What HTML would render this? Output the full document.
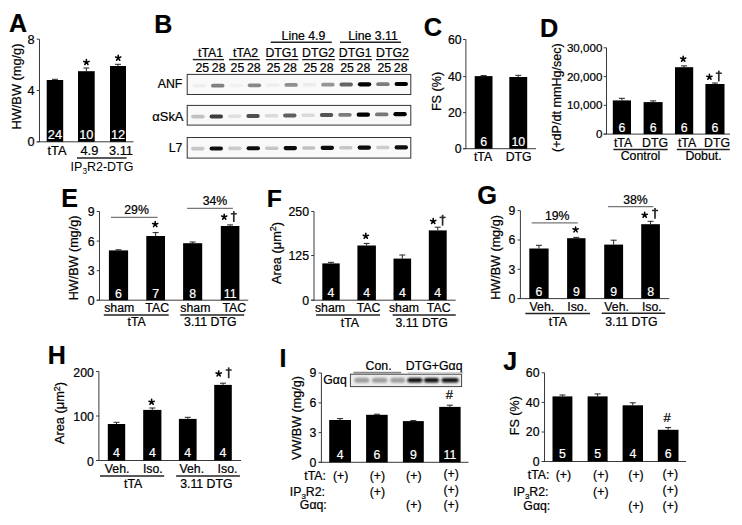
<!DOCTYPE html>
<html><head><meta charset="utf-8"><style>
html,body{margin:0;padding:0;background:#fff;}
svg{display:block;font-family:"Liberation Sans", sans-serif;}
text{stroke-width:0.22px;}
</style></head><body>
<svg width="742" height="525" viewBox="0 0 742 525">
<defs><filter id="bl" x="-30%" y="-100%" width="160%" height="300%"><feGaussianBlur stdDeviation="0.6"/></filter><filter id="bl2" x="-30%" y="-100%" width="160%" height="300%"><feGaussianBlur stdDeviation="0.8"/></filter></defs>
<rect width="742" height="525" fill="#fff"/>
<text x="8.9" y="31.8" font-size="25.0" text-anchor="start" fill="#000" stroke="#000" font-weight="bold">A</text>
<line x1="39.5" y1="39.2" x2="39.5" y2="141.8" stroke="#3a3a3a" stroke-width="1"/>
<line x1="36.7" y1="141.8" x2="133.5" y2="141.8" stroke="#3a3a3a" stroke-width="1"/>
<line x1="36.7" y1="39.2" x2="39.5" y2="39.2" stroke="#3a3a3a" stroke-width="1"/>
<text x="34.7" y="43.7824" font-size="12.8" text-anchor="end" fill="#000" stroke="#000">8</text>
<line x1="36.7" y1="90.5" x2="39.5" y2="90.5" stroke="#3a3a3a" stroke-width="1"/>
<text x="34.7" y="95.0824" font-size="12.8" text-anchor="end" fill="#000" stroke="#000">4</text>
<line x1="36.7" y1="141.8" x2="39.5" y2="141.8" stroke="#3a3a3a" stroke-width="1"/>
<text x="34.7" y="146.38240000000002" font-size="12.8" text-anchor="end" fill="#000" stroke="#000">0</text>
<text transform="translate(20.6,86.5) rotate(-90)" font-size="12.8" text-anchor="middle" fill="#000" stroke="#000">HW/BW (mg/g)</text>
<line x1="54.95" y1="79.3" x2="54.95" y2="80" stroke="#222" stroke-width="1"/>
<line x1="51.95" y1="79.3" x2="57.95" y2="79.3" stroke="#222" stroke-width="1"/>
<rect x="46.7" y="80" width="16.5" height="61.80000000000001" fill="#000" />
<text x="54.95" y="139" font-size="12.8" text-anchor="middle" fill="#fff" stroke="#fff">24</text>
<line x1="86.35" y1="68" x2="86.35" y2="71.2" stroke="#222" stroke-width="1"/>
<line x1="83.35" y1="68" x2="89.35" y2="68" stroke="#222" stroke-width="1"/>
<rect x="78" y="71.2" width="16.700000000000003" height="70.60000000000001" fill="#000" />
<text x="86.35" y="139" font-size="12.8" text-anchor="middle" fill="#fff" stroke="#fff">10</text>
<line x1="118.0" y1="64.3" x2="118.0" y2="66" stroke="#222" stroke-width="1"/>
<line x1="115.0" y1="64.3" x2="121.0" y2="64.3" stroke="#222" stroke-width="1"/>
<rect x="110" y="66" width="16" height="75.80000000000001" fill="#000" />
<text x="118.0" y="139" font-size="12.8" text-anchor="middle" fill="#fff" stroke="#fff">12</text>
<path d="M86.40,62.25L86.40,59.50M86.40,62.25L89.02,61.40M86.40,62.25L88.02,64.47M86.40,62.25L84.78,64.47M86.40,62.25L83.78,61.40" stroke="#000" stroke-width="1.55" stroke-linecap="round" fill="none"/>
<path d="M118.20,57.95L118.20,55.20M118.20,57.95L120.82,57.10M118.20,57.95L119.82,60.17M118.20,57.95L116.58,60.17M118.20,57.95L115.58,57.10" stroke="#000" stroke-width="1.55" stroke-linecap="round" fill="none"/>
<text x="57" y="155.3" font-size="12.8" text-anchor="middle" fill="#000" stroke="#000">tTA</text>
<text x="89.4" y="155.3" font-size="12.8" text-anchor="middle" fill="#000" stroke="#000">4.9</text>
<text x="121" y="155.3" font-size="12.8" text-anchor="middle" fill="#000" stroke="#000">3.11</text>
<line x1="77" y1="158.1" x2="126.6" y2="158.1" stroke="#222" stroke-width="1.5"/>
<text x="70.6" y="170.6" font-size="12.8" text-anchor="start" textLength="62.8" lengthAdjust="spacingAndGlyphs">IP<tspan font-size="8.5" dy="3">3</tspan><tspan dy="-3">R2-DTG</tspan></text>
<text x="154.25" y="32.6" font-size="25.0" text-anchor="start" fill="#000" stroke="#000" font-weight="bold">B</text>
<text x="303.5" y="39.8" font-size="12.3" text-anchor="middle" fill="#000" stroke="#000">Line 4.9</text>
<line x1="270.8" y1="42.2" x2="331.8" y2="42.2" stroke="#222" stroke-width="1.4"/>
<text x="373" y="39.8" font-size="12.3" text-anchor="middle" fill="#000" stroke="#000">Line 3.11</text>
<line x1="340" y1="42.2" x2="401" y2="42.2" stroke="#222" stroke-width="1.4"/>
<text x="210.5" y="56.6" font-size="12.3" text-anchor="middle" fill="#000" stroke="#000">tTA1</text>
<line x1="192.8" y1="59.6" x2="224" y2="59.6" stroke="#222" stroke-width="1.4"/>
<text x="202.3" y="71.5" font-size="12.3" text-anchor="middle" fill="#000" stroke="#000">25</text>
<text x="218.7" y="71.5" font-size="12.3" text-anchor="middle" fill="#000" stroke="#000">28</text>
<text x="245.6" y="56.6" font-size="12.3" text-anchor="middle" fill="#000" stroke="#000">tTA2</text>
<line x1="229" y1="59.6" x2="259.8" y2="59.6" stroke="#222" stroke-width="1.4"/>
<text x="237.4" y="71.5" font-size="12.3" text-anchor="middle" fill="#000" stroke="#000">25</text>
<text x="253.79999999999998" y="71.5" font-size="12.3" text-anchor="middle" fill="#000" stroke="#000">28</text>
<text x="281.8" y="56.6" font-size="12.3" text-anchor="middle" fill="#000" stroke="#000">DTG1</text>
<line x1="265.8" y1="59.6" x2="298.4" y2="59.6" stroke="#222" stroke-width="1.4"/>
<text x="273.6" y="71.5" font-size="12.3" text-anchor="middle" fill="#000" stroke="#000">25</text>
<text x="290.0" y="71.5" font-size="12.3" text-anchor="middle" fill="#000" stroke="#000">28</text>
<text x="318.5" y="56.6" font-size="12.3" text-anchor="middle" fill="#000" stroke="#000">DTG2</text>
<line x1="302.2" y1="59.6" x2="335" y2="59.6" stroke="#222" stroke-width="1.4"/>
<text x="310.3" y="71.5" font-size="12.3" text-anchor="middle" fill="#000" stroke="#000">25</text>
<text x="326.7" y="71.5" font-size="12.3" text-anchor="middle" fill="#000" stroke="#000">28</text>
<text x="355.2" y="56.6" font-size="12.3" text-anchor="middle" fill="#000" stroke="#000">DTG1</text>
<line x1="339" y1="59.6" x2="372" y2="59.6" stroke="#222" stroke-width="1.4"/>
<text x="347.0" y="71.5" font-size="12.3" text-anchor="middle" fill="#000" stroke="#000">25</text>
<text x="363.4" y="71.5" font-size="12.3" text-anchor="middle" fill="#000" stroke="#000">28</text>
<text x="392.5" y="56.6" font-size="12.3" text-anchor="middle" fill="#000" stroke="#000">DTG2</text>
<line x1="376" y1="59.6" x2="409" y2="59.6" stroke="#222" stroke-width="1.4"/>
<text x="384.3" y="71.5" font-size="12.3" text-anchor="middle" fill="#000" stroke="#000">25</text>
<text x="400.7" y="71.5" font-size="12.3" text-anchor="middle" fill="#000" stroke="#000">28</text>
<rect x="187.2" y="74.4" width="223.60000000000002" height="20.099999999999994" fill="#f9f9f9" stroke="#333" stroke-width="1"/>
<rect x="192.70" y="84.08" width="13.4" height="3.43" rx="1.72" fill="rgb(238,238,238)" filter="url(#bl)"/>
<rect x="211.05" y="83.74" width="13.4" height="3.78" rx="1.89" fill="rgb(129,129,129)" filter="url(#bl)"/>
<rect x="229.40" y="83.76" width="13.4" height="3.42" rx="1.71" fill="rgb(241,241,241)" filter="url(#bl)"/>
<rect x="247.75" y="83.43" width="13.4" height="3.76" rx="1.88" fill="rgb(136,136,136)" filter="url(#bl)"/>
<rect x="266.10" y="83.43" width="13.4" height="3.43" rx="1.72" fill="rgb(238,238,238)" filter="url(#bl)"/>
<rect x="284.45" y="83.11" width="13.4" height="3.74" rx="1.87" fill="rgb(144,144,144)" filter="url(#bl)"/>
<rect x="302.80" y="83.10" width="13.4" height="3.44" rx="1.72" fill="rgb(236,236,236)" filter="url(#bl)"/>
<rect x="321.15" y="82.79" width="13.4" height="3.72" rx="1.86" fill="rgb(149,149,149)" filter="url(#bl)"/>
<rect x="339.50" y="82.55" width="13.4" height="3.88" rx="1.94" fill="rgb(99,99,99)" filter="url(#bl)"/>
<rect x="357.85" y="82.24" width="13.4" height="4.18" rx="2.09" fill="rgb(5,5,5)" filter="url(#bl)"/>
<rect x="376.20" y="82.26" width="13.4" height="3.80" rx="1.90" fill="rgb(124,124,124)" filter="url(#bl)"/>
<rect x="394.55" y="81.91" width="13.4" height="4.18" rx="2.09" fill="rgb(5,5,5)" filter="url(#bl)"/>
<rect x="187.2" y="105.4" width="223.60000000000002" height="19.69999999999999" fill="#f9f9f9" stroke="#333" stroke-width="1"/>
<rect x="191.20" y="114.81" width="13.4" height="3.58" rx="1.79" fill="rgb(193,193,193)" filter="url(#bl)"/>
<rect x="209.58" y="114.38" width="13.4" height="4.00" rx="2.00" fill="rgb(62,62,62)" filter="url(#bl)"/>
<rect x="227.96" y="114.42" width="13.4" height="3.48" rx="1.74" fill="rgb(223,223,223)" filter="url(#bl)"/>
<rect x="246.34" y="113.97" width="13.4" height="3.94" rx="1.97" fill="rgb(79,79,79)" filter="url(#bl)"/>
<rect x="264.72" y="113.98" width="13.4" height="3.50" rx="1.75" fill="rgb(218,218,218)" filter="url(#bl)"/>
<rect x="283.10" y="113.56" width="13.4" height="3.90" rx="1.95" fill="rgb(94,94,94)" filter="url(#bl)"/>
<rect x="301.48" y="113.54" width="13.4" height="3.50" rx="1.75" fill="rgb(218,218,218)" filter="url(#bl)"/>
<rect x="319.86" y="113.11" width="13.4" height="3.93" rx="1.96" fill="rgb(84,84,84)" filter="url(#bl)"/>
<rect x="338.24" y="112.95" width="13.4" height="3.80" rx="1.90" fill="rgb(124,124,124)" filter="url(#bl)"/>
<rect x="356.62" y="112.54" width="13.4" height="4.18" rx="2.09" fill="rgb(5,5,5)" filter="url(#bl)"/>
<rect x="375.00" y="112.51" width="13.4" height="3.82" rx="1.91" fill="rgb(119,119,119)" filter="url(#bl)"/>
<rect x="393.38" y="112.11" width="13.4" height="4.18" rx="2.09" fill="rgb(5,5,5)" filter="url(#bl)"/>
<rect x="187.2" y="137.5" width="223.60000000000002" height="20.599999999999994" fill="#f9f9f9" stroke="#333" stroke-width="1"/>
<rect x="191.10" y="146.82" width="13.4" height="3.56" rx="1.78" fill="rgb(198,198,198)" filter="url(#bl)"/>
<rect x="209.60" y="146.42" width="13.4" height="4.14" rx="2.07" fill="rgb(17,17,17)" filter="url(#bl)"/>
<rect x="228.10" y="146.61" width="13.4" height="3.54" rx="1.77" fill="rgb(203,203,203)" filter="url(#bl)"/>
<rect x="246.60" y="146.19" width="13.4" height="4.17" rx="2.08" fill="rgb(10,10,10)" filter="url(#bl)"/>
<rect x="265.10" y="146.38" width="13.4" height="3.56" rx="1.78" fill="rgb(198,198,198)" filter="url(#bl)"/>
<rect x="283.60" y="145.97" width="13.4" height="4.18" rx="2.09" fill="rgb(7,7,7)" filter="url(#bl)"/>
<rect x="302.10" y="146.16" width="13.4" height="3.58" rx="1.79" fill="rgb(193,193,193)" filter="url(#bl)"/>
<rect x="320.60" y="145.75" width="13.4" height="4.18" rx="2.09" fill="rgb(7,7,7)" filter="url(#bl)"/>
<rect x="339.10" y="145.95" width="13.4" height="3.56" rx="1.78" fill="rgb(198,198,198)" filter="url(#bl)"/>
<rect x="357.60" y="145.53" width="13.4" height="4.18" rx="2.09" fill="rgb(7,7,7)" filter="url(#bl)"/>
<rect x="376.10" y="145.74" width="13.4" height="3.54" rx="1.77" fill="rgb(203,203,203)" filter="url(#bl)"/>
<rect x="394.60" y="145.33" width="13.4" height="4.14" rx="2.07" fill="rgb(17,17,17)" filter="url(#bl)"/>
<text x="182.4" y="88.3" font-size="12.3" text-anchor="end" fill="#000" stroke="#000">ANF</text>
<text x="152.3" y="121" font-size="12.3" stroke="#000" textLength="31.2" lengthAdjust="spacingAndGlyphs">αSkA</text>
<text x="182.4" y="152" font-size="12.3" text-anchor="end" fill="#000" stroke="#000">L7</text>
<text x="423.7" y="36.0" font-size="25.41" text-anchor="start" fill="#000" stroke="#000" font-weight="bold">C</text>
<line x1="465.9" y1="39.5" x2="465.9" y2="148.7" stroke="#3a3a3a" stroke-width="1"/>
<line x1="463.09999999999997" y1="148.7" x2="536" y2="148.7" stroke="#3a3a3a" stroke-width="1"/>
<line x1="463.09999999999997" y1="39.5" x2="465.9" y2="39.5" stroke="#3a3a3a" stroke-width="1"/>
<text x="461.59999999999997" y="43.9034" font-size="12.3" text-anchor="end" fill="#000" stroke="#000">60</text>
<line x1="463.09999999999997" y1="76.6" x2="465.9" y2="76.6" stroke="#3a3a3a" stroke-width="1"/>
<text x="461.59999999999997" y="81.0034" font-size="12.3" text-anchor="end" fill="#000" stroke="#000">40</text>
<line x1="463.09999999999997" y1="112.6" x2="465.9" y2="112.6" stroke="#3a3a3a" stroke-width="1"/>
<text x="461.59999999999997" y="117.0034" font-size="12.3" text-anchor="end" fill="#000" stroke="#000">20</text>
<line x1="463.09999999999997" y1="148.7" x2="465.9" y2="148.7" stroke="#3a3a3a" stroke-width="1"/>
<text x="461.59999999999997" y="153.1034" font-size="12.3" text-anchor="end" fill="#000" stroke="#000">0</text>
<text transform="translate(441.0,91.5) rotate(-90)" font-size="12.6" text-anchor="middle" fill="#000" stroke="#000">FS (%)</text>
<line x1="483.6" y1="75.6" x2="483.6" y2="76.1" stroke="#222" stroke-width="1"/>
<line x1="480.6" y1="75.6" x2="486.6" y2="75.6" stroke="#222" stroke-width="1"/>
<rect x="474.7" y="76.1" width="17.80000000000001" height="72.6" fill="#000" />
<text x="483.6" y="146.2" font-size="12.3" text-anchor="middle" fill="#fff" stroke="#fff">6</text>
<line x1="518.25" y1="75.3" x2="518.25" y2="77" stroke="#222" stroke-width="1"/>
<line x1="515.25" y1="75.3" x2="521.25" y2="75.3" stroke="#222" stroke-width="1"/>
<rect x="509.3" y="77" width="17.900000000000034" height="71.69999999999999" fill="#000" />
<text x="518.25" y="146.2" font-size="12.3" text-anchor="middle" fill="#fff" stroke="#fff">10</text>
<text x="483" y="160.7" font-size="12.3" text-anchor="middle" fill="#000" stroke="#000">tTA</text>
<text x="518.7" y="160.7" font-size="12.3" text-anchor="middle" fill="#000" stroke="#000">DTG</text>
<text x="540.1" y="36.8" font-size="25.28" text-anchor="start" fill="#000" stroke="#000" font-weight="bold">D</text>
<line x1="606.5" y1="47.8" x2="606.5" y2="134.1" stroke="#3a3a3a" stroke-width="1"/>
<line x1="603.7" y1="134.1" x2="730" y2="134.1" stroke="#3a3a3a" stroke-width="1"/>
<line x1="603.7" y1="47.8" x2="606.5" y2="47.8" stroke="#3a3a3a" stroke-width="1"/>
<text x="602.4" y="51.952799999999996" font-size="11.6" text-anchor="end" fill="#000" stroke="#000">30,000</text>
<line x1="603.7" y1="76.6" x2="606.5" y2="76.6" stroke="#3a3a3a" stroke-width="1"/>
<text x="602.4" y="80.7528" font-size="11.6" text-anchor="end" fill="#000" stroke="#000">20,000</text>
<line x1="603.7" y1="105.3" x2="606.5" y2="105.3" stroke="#3a3a3a" stroke-width="1"/>
<text x="602.4" y="109.4528" font-size="11.6" text-anchor="end" fill="#000" stroke="#000">10,000</text>
<line x1="603.7" y1="134.1" x2="606.5" y2="134.1" stroke="#3a3a3a" stroke-width="1"/>
<text x="602.4" y="138.2528" font-size="11.6" text-anchor="end" fill="#000" stroke="#000">0</text>
<text transform="translate(560.6,97.6) rotate(-90)" font-size="12.6" text-anchor="middle" fill="#000" stroke="#000">(+dP/dt mmHg/sec)</text>
<line x1="621.9" y1="98.3" x2="621.9" y2="100.4" stroke="#222" stroke-width="1"/>
<line x1="618.9" y1="98.3" x2="624.9" y2="98.3" stroke="#222" stroke-width="1"/>
<rect x="612.8" y="100.4" width="18.200000000000045" height="33.69999999999999" fill="#000" />
<text x="621.9" y="131.5" font-size="12.3" text-anchor="middle" fill="#fff" stroke="#fff">6</text>
<line x1="653.1" y1="100.9" x2="653.1" y2="102.1" stroke="#222" stroke-width="1"/>
<line x1="650.1" y1="100.9" x2="656.1" y2="100.9" stroke="#222" stroke-width="1"/>
<rect x="643.6" y="102.1" width="19.0" height="32.0" fill="#000" />
<text x="653.1" y="131.5" font-size="12.3" text-anchor="middle" fill="#fff" stroke="#fff">6</text>
<line x1="684.1" y1="65.9" x2="684.1" y2="67.2" stroke="#222" stroke-width="1"/>
<line x1="681.1" y1="65.9" x2="687.1" y2="65.9" stroke="#222" stroke-width="1"/>
<rect x="675" y="67.2" width="18.200000000000045" height="66.89999999999999" fill="#000" />
<text x="684.1" y="131.5" font-size="12.3" text-anchor="middle" fill="#fff" stroke="#fff">6</text>
<line x1="714.95" y1="83" x2="714.95" y2="84" stroke="#222" stroke-width="1"/>
<line x1="711.95" y1="83" x2="717.95" y2="83" stroke="#222" stroke-width="1"/>
<rect x="705.4" y="84" width="19.100000000000023" height="50.099999999999994" fill="#000" />
<text x="714.95" y="131.5" font-size="12.3" text-anchor="middle" fill="#fff" stroke="#fff">6</text>
<path d="M683.20,58.95L683.20,56.20M683.20,58.95L685.82,58.10M683.20,58.95L684.82,61.17M683.20,58.95L681.58,61.17M683.20,58.95L680.58,58.10" stroke="#000" stroke-width="1.55" stroke-linecap="round" fill="none"/>
<path d="M709.40,77.05L709.40,74.30M709.40,77.05L712.02,76.20M709.40,77.05L711.02,79.27M709.40,77.05L707.78,79.27M709.40,77.05L706.78,76.20" stroke="#000" stroke-width="1.55" stroke-linecap="round" fill="none"/>
<line x1="718.8" y1="70.60000000000001" x2="718.8" y2="81.4" stroke="#2a2a2a" stroke-width="1.7"/>
<line x1="715.8" y1="73.2" x2="721.8" y2="73.2" stroke="#2a2a2a" stroke-width="1.5"/>
<text x="623" y="146.6" font-size="12.3" text-anchor="middle" fill="#000" stroke="#000">tTA</text>
<text x="655" y="146.6" font-size="12.3" text-anchor="middle" fill="#000" stroke="#000">DTG</text>
<text x="687" y="146.6" font-size="12.3" text-anchor="middle" fill="#000" stroke="#000">tTA</text>
<text x="717" y="146.6" font-size="12.3" text-anchor="middle" fill="#000" stroke="#000">DTG</text>
<line x1="613.4" y1="149.5" x2="667.7" y2="149.5" stroke="#222" stroke-width="1.4"/>
<line x1="676.8" y1="149.5" x2="729.8" y2="149.5" stroke="#222" stroke-width="1.4"/>
<text x="640.5" y="160.3" font-size="12.3" text-anchor="middle" fill="#000" stroke="#000">Control</text>
<text x="703.5" y="160.3" font-size="12.3" text-anchor="middle" fill="#000" stroke="#000">Dobut.</text>
<text x="61.2" y="206.6" font-size="25.0" text-anchor="start" fill="#000" stroke="#000" font-weight="bold">E</text>
<line x1="99.5" y1="211.5" x2="99.5" y2="300.2" stroke="#3a3a3a" stroke-width="1"/>
<line x1="96.7" y1="300.2" x2="248.2" y2="300.2" stroke="#3a3a3a" stroke-width="1"/>
<line x1="96.7" y1="211.5" x2="99.5" y2="211.5" stroke="#3a3a3a" stroke-width="1"/>
<text x="94.5" y="215.9034" font-size="12.3" text-anchor="end" fill="#000" stroke="#000">9</text>
<line x1="96.7" y1="241.1" x2="99.5" y2="241.1" stroke="#3a3a3a" stroke-width="1"/>
<text x="94.5" y="245.5034" font-size="12.3" text-anchor="end" fill="#000" stroke="#000">6</text>
<line x1="96.7" y1="270.7" x2="99.5" y2="270.7" stroke="#3a3a3a" stroke-width="1"/>
<text x="94.5" y="275.10339999999997" font-size="12.3" text-anchor="end" fill="#000" stroke="#000">3</text>
<line x1="96.7" y1="300.2" x2="99.5" y2="300.2" stroke="#3a3a3a" stroke-width="1"/>
<text x="94.5" y="304.60339999999997" font-size="12.3" text-anchor="end" fill="#000" stroke="#000">0</text>
<text transform="translate(78.3,258) rotate(-90)" font-size="12.6" text-anchor="middle" fill="#000" stroke="#000">HW/BW (mg/g)</text>
<line x1="118.5" y1="249.8" x2="118.5" y2="250.4" stroke="#222" stroke-width="1"/>
<line x1="115.5" y1="249.8" x2="121.5" y2="249.8" stroke="#222" stroke-width="1"/>
<rect x="108.9" y="250.4" width="19.19999999999999" height="49.79999999999998" fill="#000" />
<text x="118.5" y="297.5" font-size="12.3" text-anchor="middle" fill="#fff" stroke="#fff">6</text>
<line x1="155.65" y1="232.6" x2="155.65" y2="236" stroke="#222" stroke-width="1"/>
<line x1="152.65" y1="232.6" x2="158.65" y2="232.6" stroke="#222" stroke-width="1"/>
<rect x="146.3" y="236" width="18.69999999999999" height="64.19999999999999" fill="#000" />
<text x="155.65" y="297.5" font-size="12.3" text-anchor="middle" fill="#fff" stroke="#fff">7</text>
<line x1="192.64999999999998" y1="242" x2="192.64999999999998" y2="243.2" stroke="#222" stroke-width="1"/>
<line x1="189.64999999999998" y1="242" x2="195.64999999999998" y2="242" stroke="#222" stroke-width="1"/>
<rect x="183.1" y="243.2" width="19.099999999999994" height="57.0" fill="#000" />
<text x="192.64999999999998" y="297.5" font-size="12.3" text-anchor="middle" fill="#fff" stroke="#fff">8</text>
<line x1="230.10000000000002" y1="224.9" x2="230.10000000000002" y2="226" stroke="#222" stroke-width="1"/>
<line x1="227.10000000000002" y1="224.9" x2="233.10000000000002" y2="224.9" stroke="#222" stroke-width="1"/>
<rect x="220.8" y="226" width="18.599999999999994" height="74.19999999999999" fill="#000" />
<text x="230.10000000000002" y="297.5" font-size="12.3" text-anchor="middle" fill="#fff" stroke="#fff">11</text>
<text x="136.6" y="214.3" font-size="12.3" text-anchor="middle" fill="#000" stroke="#000">29%</text>
<line x1="111" y1="217.4" x2="157.6" y2="217.4" stroke="#777" stroke-width="1.3"/>
<text x="215" y="205.4" font-size="12.3" text-anchor="middle" fill="#000" stroke="#000">34%</text>
<line x1="187.1" y1="208.4" x2="232.9" y2="208.4" stroke="#777" stroke-width="1.3"/>
<path d="M155.20,224.35L155.20,221.60M155.20,224.35L157.82,223.50M155.20,224.35L156.82,226.57M155.20,224.35L153.58,226.57M155.20,224.35L152.58,223.50" stroke="#000" stroke-width="1.55" stroke-linecap="round" fill="none"/>
<path d="M224.20,216.95L224.20,214.20M224.20,216.95L226.82,216.10M224.20,216.95L225.82,219.17M224.20,216.95L222.58,219.17M224.20,216.95L221.58,216.10" stroke="#000" stroke-width="1.55" stroke-linecap="round" fill="none"/>
<line x1="233.8" y1="211.2" x2="233.8" y2="222" stroke="#2a2a2a" stroke-width="1.7"/>
<line x1="230.8" y1="213.79999999999998" x2="236.8" y2="213.79999999999998" stroke="#2a2a2a" stroke-width="1.5"/>
<text x="119.2" y="311.9" font-size="12.3" text-anchor="middle" fill="#000" stroke="#000">sham</text>
<text x="157.2" y="311.9" font-size="12.3" text-anchor="middle" fill="#000" stroke="#000">TAC</text>
<text x="195.4" y="311.9" font-size="12.3" text-anchor="middle" fill="#000" stroke="#000">sham</text>
<text x="234.3" y="311.9" font-size="12.3" text-anchor="middle" fill="#000" stroke="#000">TAC</text>
<line x1="103.8" y1="315.1" x2="168.7" y2="315.1" stroke="#222" stroke-width="1.5"/>
<line x1="180.3" y1="315.1" x2="244.2" y2="315.1" stroke="#222" stroke-width="1.5"/>
<text x="136.6" y="325.6" font-size="12.3" text-anchor="middle" fill="#000" stroke="#000">tTA</text>
<text x="210.3" y="325.9" font-size="12.3" text-anchor="middle" fill="#000" stroke="#000">3.11 DTG</text>
<text x="266.85" y="206.8" font-size="24.79" text-anchor="start" fill="#000" stroke="#000" font-weight="bold">F</text>
<line x1="314" y1="211.5" x2="314" y2="300.2" stroke="#3a3a3a" stroke-width="1"/>
<line x1="311.2" y1="300.2" x2="455.7" y2="300.2" stroke="#3a3a3a" stroke-width="1"/>
<line x1="311.2" y1="211.5" x2="314" y2="211.5" stroke="#3a3a3a" stroke-width="1"/>
<text x="309.0" y="215.9034" font-size="12.3" text-anchor="end" fill="#000" stroke="#000">250</text>
<line x1="311.2" y1="255.5" x2="314" y2="255.5" stroke="#3a3a3a" stroke-width="1"/>
<text x="309.0" y="259.9034" font-size="12.3" text-anchor="end" fill="#000" stroke="#000">125</text>
<line x1="311.2" y1="300.2" x2="314" y2="300.2" stroke="#3a3a3a" stroke-width="1"/>
<text x="309.0" y="304.60339999999997" font-size="12.3" text-anchor="end" fill="#000" stroke="#000">0</text>
<text transform="translate(280.8,253) rotate(-90)" font-size="12.8" text-anchor="middle" fill="#000" stroke="#000">Area (μm<tspan font-size="9" dy="-4.6">2</tspan><tspan dy="4.6">)</tspan></text>
<line x1="331.0" y1="262.3" x2="331.0" y2="263.4" stroke="#222" stroke-width="1"/>
<line x1="328.0" y1="262.3" x2="334.0" y2="262.3" stroke="#222" stroke-width="1"/>
<rect x="322.3" y="263.4" width="17.399999999999977" height="36.80000000000001" fill="#000" />
<text x="331.0" y="297.2" font-size="12.3" text-anchor="middle" fill="#fff" stroke="#fff">4</text>
<line x1="366.65" y1="243.4" x2="366.65" y2="245.5" stroke="#222" stroke-width="1"/>
<line x1="363.65" y1="243.4" x2="369.65" y2="243.4" stroke="#222" stroke-width="1"/>
<rect x="357.4" y="245.5" width="18.5" height="54.69999999999999" fill="#000" />
<text x="366.65" y="297.2" font-size="12.3" text-anchor="middle" fill="#fff" stroke="#fff">4</text>
<line x1="402.3" y1="255" x2="402.3" y2="258.6" stroke="#222" stroke-width="1"/>
<line x1="399.3" y1="255" x2="405.3" y2="255" stroke="#222" stroke-width="1"/>
<rect x="393.5" y="258.6" width="17.600000000000023" height="41.599999999999966" fill="#000" />
<text x="402.3" y="297.2" font-size="12.3" text-anchor="middle" fill="#fff" stroke="#fff">4</text>
<line x1="437.75" y1="227.2" x2="437.75" y2="230.4" stroke="#222" stroke-width="1"/>
<line x1="434.75" y1="227.2" x2="440.75" y2="227.2" stroke="#222" stroke-width="1"/>
<rect x="428.8" y="230.4" width="17.899999999999977" height="69.79999999999998" fill="#000" />
<text x="437.75" y="297.2" font-size="12.3" text-anchor="middle" fill="#fff" stroke="#fff">4</text>
<path d="M365.80,236.05L365.80,233.30M365.80,236.05L368.42,235.20M365.80,236.05L367.42,238.27M365.80,236.05L364.18,238.27M365.80,236.05L363.18,235.20" stroke="#000" stroke-width="1.55" stroke-linecap="round" fill="none"/>
<path d="M433.20,221.25L433.20,218.50M433.20,221.25L435.82,220.40M433.20,221.25L434.82,223.47M433.20,221.25L431.58,223.47M433.20,221.25L430.58,220.40" stroke="#000" stroke-width="1.55" stroke-linecap="round" fill="none"/>
<line x1="442.6" y1="214.79999999999998" x2="442.6" y2="225.6" stroke="#2a2a2a" stroke-width="1.7"/>
<line x1="439.6" y1="217.39999999999998" x2="445.6" y2="217.39999999999998" stroke="#2a2a2a" stroke-width="1.5"/>
<text x="330" y="311.9" font-size="12.3" text-anchor="middle" fill="#000" stroke="#000">sham</text>
<text x="368.6" y="311.9" font-size="12.3" text-anchor="middle" fill="#000" stroke="#000">TAC</text>
<text x="404" y="311.9" font-size="12.3" text-anchor="middle" fill="#000" stroke="#000">sham</text>
<text x="438.7" y="311.9" font-size="12.3" text-anchor="middle" fill="#000" stroke="#000">TAC</text>
<line x1="316.1" y1="315.1" x2="380" y2="315.1" stroke="#222" stroke-width="1.5"/>
<line x1="392.6" y1="315.1" x2="455.7" y2="315.1" stroke="#222" stroke-width="1.5"/>
<text x="349.9" y="326.8" font-size="12.3" text-anchor="middle" fill="#000" stroke="#000">tTA</text>
<text x="421.7" y="326.8" font-size="12.3" text-anchor="middle" fill="#000" stroke="#000">3.11 DTG</text>
<text x="477.15" y="204.4" font-size="25.41" text-anchor="start" fill="#000" stroke="#000" font-weight="bold">G</text>
<line x1="520.4" y1="210.6" x2="520.4" y2="298.6" stroke="#3a3a3a" stroke-width="1"/>
<line x1="517.6" y1="298.6" x2="669.2" y2="298.6" stroke="#3a3a3a" stroke-width="1"/>
<line x1="517.6" y1="210.6" x2="520.4" y2="210.6" stroke="#3a3a3a" stroke-width="1"/>
<text x="515.4" y="215.0034" font-size="12.3" text-anchor="end" fill="#000" stroke="#000">9</text>
<line x1="517.6" y1="240.0" x2="520.4" y2="240.0" stroke="#3a3a3a" stroke-width="1"/>
<text x="515.4" y="244.4034" font-size="12.3" text-anchor="end" fill="#000" stroke="#000">6</text>
<line x1="517.6" y1="269.3" x2="520.4" y2="269.3" stroke="#3a3a3a" stroke-width="1"/>
<text x="515.4" y="273.7034" font-size="12.3" text-anchor="end" fill="#000" stroke="#000">3</text>
<line x1="517.6" y1="298.6" x2="520.4" y2="298.6" stroke="#3a3a3a" stroke-width="1"/>
<text x="515.4" y="303.0034" font-size="12.3" text-anchor="end" fill="#000" stroke="#000">0</text>
<text transform="translate(500.2,257.5) rotate(-90)" font-size="12.6" text-anchor="middle" fill="#000" stroke="#000">HW/BW (mg/g)</text>
<line x1="538.95" y1="245.3" x2="538.95" y2="248.5" stroke="#222" stroke-width="1"/>
<line x1="535.95" y1="245.3" x2="541.95" y2="245.3" stroke="#222" stroke-width="1"/>
<rect x="529.3" y="248.5" width="19.300000000000068" height="50.10000000000002" fill="#000" />
<text x="538.95" y="296" font-size="12.3" text-anchor="middle" fill="#fff" stroke="#fff">6</text>
<line x1="576.3" y1="237.4" x2="576.3" y2="238.2" stroke="#222" stroke-width="1"/>
<line x1="573.3" y1="237.4" x2="579.3" y2="237.4" stroke="#222" stroke-width="1"/>
<rect x="567.1" y="238.2" width="18.399999999999977" height="60.400000000000034" fill="#000" />
<text x="576.3" y="296" font-size="12.3" text-anchor="middle" fill="#fff" stroke="#fff">9</text>
<line x1="613.6500000000001" y1="240.2" x2="613.6500000000001" y2="244.6" stroke="#222" stroke-width="1"/>
<line x1="610.6500000000001" y1="240.2" x2="616.6500000000001" y2="240.2" stroke="#222" stroke-width="1"/>
<rect x="604.2" y="244.6" width="18.899999999999977" height="54.00000000000003" fill="#000" />
<text x="613.6500000000001" y="296" font-size="12.3" text-anchor="middle" fill="#fff" stroke="#fff">9</text>
<line x1="650.55" y1="221.3" x2="650.55" y2="224.2" stroke="#222" stroke-width="1"/>
<line x1="647.55" y1="221.3" x2="653.55" y2="221.3" stroke="#222" stroke-width="1"/>
<rect x="641.2" y="224.2" width="18.699999999999932" height="74.40000000000003" fill="#000" />
<text x="650.55" y="296" font-size="12.3" text-anchor="middle" fill="#fff" stroke="#fff">8</text>
<text x="557.2" y="220.3" font-size="12.3" text-anchor="middle" fill="#000" stroke="#000">19%</text>
<line x1="531.7" y1="222.9" x2="577.9" y2="222.9" stroke="#777" stroke-width="1.3"/>
<text x="635.5" y="203.7" font-size="12.3" text-anchor="middle" fill="#000" stroke="#000">38%</text>
<line x1="607.9" y1="206.6" x2="653.3" y2="206.6" stroke="#777" stroke-width="1.3"/>
<path d="M575.60,229.65L575.60,226.90M575.60,229.65L578.22,228.80M575.60,229.65L577.22,231.87M575.60,229.65L573.98,231.87M575.60,229.65L572.98,228.80" stroke="#000" stroke-width="1.55" stroke-linecap="round" fill="none"/>
<path d="M644.70,215.05L644.70,212.30M644.70,215.05L647.32,214.20M644.70,215.05L646.32,217.27M644.70,215.05L643.08,217.27M644.70,215.05L642.08,214.20" stroke="#000" stroke-width="1.55" stroke-linecap="round" fill="none"/>
<line x1="655" y1="207.89999999999998" x2="655" y2="218.7" stroke="#2a2a2a" stroke-width="1.7"/>
<line x1="652.0" y1="210.49999999999997" x2="658.0" y2="210.49999999999997" stroke="#2a2a2a" stroke-width="1.5"/>
<text x="541.9" y="310.6" font-size="12.3" text-anchor="middle" fill="#000" stroke="#000">Veh.</text>
<text x="577.2" y="310.6" font-size="12.3" text-anchor="middle" fill="#000" stroke="#000">Iso.</text>
<text x="616.6" y="310.6" font-size="12.3" text-anchor="middle" fill="#000" stroke="#000">Veh.</text>
<text x="651.8" y="310.6" font-size="12.3" text-anchor="middle" fill="#000" stroke="#000">Iso.</text>
<line x1="525.4" y1="313.5" x2="590" y2="313.5" stroke="#222" stroke-width="1.5"/>
<line x1="601.7" y1="313.3" x2="665.2" y2="313.3" stroke="#222" stroke-width="1.5"/>
<text x="557.9" y="326.1" font-size="12.3" text-anchor="middle" fill="#000" stroke="#000">tTA</text>
<text x="631.4" y="325.9" font-size="12.3" text-anchor="middle" fill="#000" stroke="#000">3.11 DTG</text>
<text x="47.7" y="364.0" font-size="25.0" text-anchor="start" fill="#000" stroke="#000" font-weight="bold">H</text>
<line x1="98.9" y1="371.5" x2="98.9" y2="460.5" stroke="#3a3a3a" stroke-width="1"/>
<line x1="96.10000000000001" y1="460.5" x2="241.1" y2="460.5" stroke="#3a3a3a" stroke-width="1"/>
<line x1="96.10000000000001" y1="371.5" x2="98.9" y2="371.5" stroke="#3a3a3a" stroke-width="1"/>
<text x="93.9" y="376.9034" font-size="12.3" text-anchor="end" fill="#000" stroke="#000">200</text>
<line x1="96.10000000000001" y1="416.0" x2="98.9" y2="416.0" stroke="#3a3a3a" stroke-width="1"/>
<text x="93.9" y="421.4034" font-size="12.3" text-anchor="end" fill="#000" stroke="#000">100</text>
<line x1="96.10000000000001" y1="460.5" x2="98.9" y2="460.5" stroke="#3a3a3a" stroke-width="1"/>
<text x="93.9" y="465.9034" font-size="12.3" text-anchor="end" fill="#000" stroke="#000">0</text>
<text transform="translate(64.4,413) rotate(-90)" font-size="12.8" text-anchor="middle" fill="#000" stroke="#000">Area (μm<tspan font-size="9" dy="-4.6">2</tspan><tspan dy="4.6">)</tspan></text>
<line x1="116.5" y1="422.3" x2="116.5" y2="424" stroke="#222" stroke-width="1"/>
<line x1="113.5" y1="422.3" x2="119.5" y2="422.3" stroke="#222" stroke-width="1"/>
<rect x="107.8" y="424" width="17.400000000000006" height="36.5" fill="#000" />
<text x="116.5" y="457.2" font-size="12.3" text-anchor="middle" fill="#fff" stroke="#fff">4</text>
<line x1="152.3" y1="408" x2="152.3" y2="409.9" stroke="#222" stroke-width="1"/>
<line x1="149.3" y1="408" x2="155.3" y2="408" stroke="#222" stroke-width="1"/>
<rect x="143.2" y="409.9" width="18.200000000000017" height="50.60000000000002" fill="#000" />
<text x="152.3" y="457.2" font-size="12.3" text-anchor="middle" fill="#fff" stroke="#fff">4</text>
<line x1="187.75" y1="417.3" x2="187.75" y2="418.9" stroke="#222" stroke-width="1"/>
<line x1="184.75" y1="417.3" x2="190.75" y2="417.3" stroke="#222" stroke-width="1"/>
<rect x="178.9" y="418.9" width="17.69999999999999" height="41.60000000000002" fill="#000" />
<text x="187.75" y="457.2" font-size="12.3" text-anchor="middle" fill="#fff" stroke="#fff">4</text>
<line x1="223.0" y1="383.2" x2="223.0" y2="384.9" stroke="#222" stroke-width="1"/>
<line x1="220.0" y1="383.2" x2="226.0" y2="383.2" stroke="#222" stroke-width="1"/>
<rect x="214.2" y="384.9" width="17.600000000000023" height="75.60000000000002" fill="#000" />
<text x="223.0" y="457.2" font-size="12.3" text-anchor="middle" fill="#fff" stroke="#fff">4</text>
<path d="M151.60,402.05L151.60,399.30M151.60,402.05L154.22,401.20M151.60,402.05L153.22,404.27M151.60,402.05L149.98,404.27M151.60,402.05L148.98,401.20" stroke="#000" stroke-width="1.55" stroke-linecap="round" fill="none"/>
<path d="M218.70,373.75L218.70,371.00M218.70,373.75L221.32,372.90M218.70,373.75L220.32,375.97M218.70,373.75L217.08,375.97M218.70,373.75L216.08,372.90" stroke="#000" stroke-width="1.55" stroke-linecap="round" fill="none"/>
<line x1="228.7" y1="367.4" x2="228.7" y2="378.2" stroke="#2a2a2a" stroke-width="1.7"/>
<line x1="225.7" y1="370.0" x2="231.7" y2="370.0" stroke="#2a2a2a" stroke-width="1.5"/>
<text x="117.1" y="472.7" font-size="12.3" text-anchor="middle" fill="#000" stroke="#000">Veh.</text>
<text x="152.8" y="472.7" font-size="12.3" text-anchor="middle" fill="#000" stroke="#000">Iso.</text>
<text x="191.8" y="472.7" font-size="12.3" text-anchor="middle" fill="#000" stroke="#000">Veh.</text>
<text x="227.5" y="472.7" font-size="12.3" text-anchor="middle" fill="#000" stroke="#000">Iso.</text>
<line x1="100" y1="476" x2="164.2" y2="476" stroke="#222" stroke-width="1.5"/>
<line x1="176.1" y1="475.9" x2="239.9" y2="475.9" stroke="#222" stroke-width="1.5"/>
<text x="133.2" y="488.2" font-size="12.3" text-anchor="middle" fill="#000" stroke="#000">tTA</text>
<text x="206.4" y="488.2" font-size="12.3" text-anchor="middle" fill="#000" stroke="#000">3.11 DTG</text>
<text x="279.5" y="366.6" font-size="25.0" text-anchor="start" fill="#000" stroke="#000" font-weight="bold">I</text>
<line x1="321.4" y1="373" x2="321.4" y2="462.3" stroke="#3a3a3a" stroke-width="1"/>
<line x1="318.59999999999997" y1="462.3" x2="468.5" y2="462.3" stroke="#3a3a3a" stroke-width="1"/>
<line x1="318.59999999999997" y1="373" x2="321.4" y2="373" stroke="#3a3a3a" stroke-width="1"/>
<text x="316.4" y="377.4034" font-size="12.3" text-anchor="end" fill="#000" stroke="#000">9</text>
<line x1="318.59999999999997" y1="402.9" x2="321.4" y2="402.9" stroke="#3a3a3a" stroke-width="1"/>
<text x="316.4" y="407.30339999999995" font-size="12.3" text-anchor="end" fill="#000" stroke="#000">6</text>
<line x1="318.59999999999997" y1="432.6" x2="321.4" y2="432.6" stroke="#3a3a3a" stroke-width="1"/>
<text x="316.4" y="437.0034" font-size="12.3" text-anchor="end" fill="#000" stroke="#000">3</text>
<line x1="318.59999999999997" y1="462.3" x2="321.4" y2="462.3" stroke="#3a3a3a" stroke-width="1"/>
<text x="316.4" y="466.7034" font-size="12.3" text-anchor="end" fill="#000" stroke="#000">0</text>
<text transform="translate(300.8,418) rotate(-90)" font-size="12.6" text-anchor="middle" fill="#000" stroke="#000">VW/BW (mg/g)</text>
<line x1="340.1" y1="418.6" x2="340.1" y2="420" stroke="#222" stroke-width="1"/>
<line x1="337.1" y1="418.6" x2="343.1" y2="418.6" stroke="#222" stroke-width="1"/>
<rect x="329.2" y="420" width="21.80000000000001" height="42.30000000000001" fill="#000" />
<text x="340.1" y="459" font-size="12.3" text-anchor="middle" fill="#fff" stroke="#fff">4</text>
<line x1="376.9" y1="414.2" x2="376.9" y2="414.8" stroke="#222" stroke-width="1"/>
<line x1="373.9" y1="414.2" x2="379.9" y2="414.2" stroke="#222" stroke-width="1"/>
<rect x="366.1" y="414.8" width="21.599999999999966" height="47.5" fill="#000" />
<text x="376.9" y="459" font-size="12.3" text-anchor="middle" fill="#fff" stroke="#fff">6</text>
<line x1="413.35" y1="420.6" x2="413.35" y2="421.1" stroke="#222" stroke-width="1"/>
<line x1="410.35" y1="420.6" x2="416.35" y2="420.6" stroke="#222" stroke-width="1"/>
<rect x="402.9" y="421.1" width="20.900000000000034" height="41.19999999999999" fill="#000" />
<text x="413.35" y="459" font-size="12.3" text-anchor="middle" fill="#fff" stroke="#fff">9</text>
<line x1="449.9" y1="405.2" x2="449.9" y2="406.9" stroke="#222" stroke-width="1"/>
<line x1="446.9" y1="405.2" x2="452.9" y2="405.2" stroke="#222" stroke-width="1"/>
<rect x="439.2" y="406.9" width="21.400000000000034" height="55.400000000000034" fill="#000" />
<text x="449.9" y="459" font-size="12.3" text-anchor="middle" fill="#fff" stroke="#fff">11</text>
<text x="449.4" y="398.9" font-size="13" text-anchor="middle" fill="#000" stroke="#000">#</text>
<rect x="350.4" y="374.2" width="111.2" height="12.4" fill="#ededed" stroke="#444" stroke-width="1"/>
<rect x="354.30" y="377.80" width="15" height="5.0" rx="2.5" fill="rgb(158,158,158)" filter="url(#bl2)"/>
<rect x="372.00" y="377.80" width="15.4" height="5.0" rx="2.5" fill="rgb(158,158,158)" filter="url(#bl2)"/>
<rect x="390.35" y="377.80" width="14.7" height="5.0" rx="2.5" fill="rgb(158,158,158)" filter="url(#bl2)"/>
<rect x="407.40" y="378.00" width="15" height="4.4" rx="2.2" fill="rgb(12,12,12)" filter="url(#bl2)"/>
<rect x="424.00" y="378.00" width="15" height="4.4" rx="2.2" fill="rgb(12,12,12)" filter="url(#bl2)"/>
<rect x="441.60" y="378.00" width="17" height="4.4" rx="2.2" fill="rgb(12,12,12)" filter="url(#bl2)"/>
<text x="335" y="384" font-size="12.3" text-anchor="middle" fill="#000" stroke="#000">Gαq</text>
<text x="378.6" y="370.4" font-size="12.3" text-anchor="middle" fill="#000" stroke="#000">Con.</text>
<line x1="353.4" y1="372.6" x2="401.3" y2="372.6" stroke="#888" stroke-width="1.6"/>
<text x="434.2" y="370.4" font-size="12.3" text-anchor="middle" fill="#000" stroke="#000">DTG+Gαq</text>
<line x1="407.7" y1="372.8" x2="463.4" y2="372.8" stroke="#bbb" stroke-width="1"/>
<text x="326" y="479.6" font-size="12.3" text-anchor="end" fill="#000" stroke="#000">tTA:</text>
<text x="325" y="495.6" font-size="12.3" text-anchor="end" fill="#000" stroke="#000">IP<tspan font-size="8" dy="3">3</tspan><tspan dy="-3">R2:</tspan></text>
<text x="326.8" y="509.2" font-size="12.3" text-anchor="end" fill="#000" stroke="#000">Gαq:</text>
<text x="340.6" y="479.6" font-size="12.3" text-anchor="middle" fill="#000" stroke="#000">(+)</text>
<text x="377.4" y="479.6" font-size="12.3" text-anchor="middle" fill="#000" stroke="#000">(+)</text>
<text x="413.8" y="479.6" font-size="12.3" text-anchor="middle" fill="#000" stroke="#000">(+)</text>
<text x="451.2" y="478.40000000000003" font-size="12.3" text-anchor="middle" fill="#000" stroke="#000">(+)</text>
<text x="377.4" y="495.6" font-size="12.3" text-anchor="middle" fill="#000" stroke="#000">(+)</text>
<text x="451.2" y="494.40000000000003" font-size="12.3" text-anchor="middle" fill="#000" stroke="#000">(+)</text>
<text x="413.8" y="509.2" font-size="12.3" text-anchor="middle" fill="#000" stroke="#000">(+)</text>
<text x="451.2" y="509.2" font-size="12.3" text-anchor="middle" fill="#000" stroke="#000">(+)</text>
<text x="503.2" y="369.6" font-size="25.0" text-anchor="start" fill="#000" stroke="#000" font-weight="bold">J</text>
<line x1="544.5" y1="372.8" x2="544.5" y2="461.5" stroke="#3a3a3a" stroke-width="1"/>
<line x1="541.7" y1="461.5" x2="686" y2="461.5" stroke="#3a3a3a" stroke-width="1"/>
<line x1="541.7" y1="372.8" x2="544.5" y2="372.8" stroke="#3a3a3a" stroke-width="1"/>
<text x="539.5" y="377.2034" font-size="12.3" text-anchor="end" fill="#000" stroke="#000">60</text>
<line x1="541.7" y1="402.4" x2="544.5" y2="402.4" stroke="#3a3a3a" stroke-width="1"/>
<text x="539.5" y="406.80339999999995" font-size="12.3" text-anchor="end" fill="#000" stroke="#000">40</text>
<line x1="541.7" y1="432.0" x2="544.5" y2="432.0" stroke="#3a3a3a" stroke-width="1"/>
<text x="539.5" y="436.4034" font-size="12.3" text-anchor="end" fill="#000" stroke="#000">20</text>
<line x1="541.7" y1="461.5" x2="544.5" y2="461.5" stroke="#3a3a3a" stroke-width="1"/>
<text x="539.5" y="465.9034" font-size="12.3" text-anchor="end" fill="#000" stroke="#000">0</text>
<text transform="translate(518.8,415.7) rotate(-90)" font-size="12.6" text-anchor="middle" fill="#000" stroke="#000">FS (%)</text>
<line x1="562.45" y1="395" x2="562.45" y2="396.4" stroke="#222" stroke-width="1"/>
<line x1="559.45" y1="395" x2="565.45" y2="395" stroke="#222" stroke-width="1"/>
<rect x="552.5" y="396.4" width="19.899999999999977" height="65.10000000000002" fill="#000" />
<text x="562.45" y="458.2" font-size="12.3" text-anchor="middle" fill="#fff" stroke="#fff">5</text>
<line x1="597.6" y1="393.9" x2="597.6" y2="396.4" stroke="#222" stroke-width="1"/>
<line x1="594.6" y1="393.9" x2="600.6" y2="393.9" stroke="#222" stroke-width="1"/>
<rect x="587.6" y="396.4" width="20.0" height="65.10000000000002" fill="#000" />
<text x="597.6" y="458.2" font-size="12.3" text-anchor="middle" fill="#fff" stroke="#fff">5</text>
<line x1="632.8" y1="402.8" x2="632.8" y2="405.3" stroke="#222" stroke-width="1"/>
<line x1="629.8" y1="402.8" x2="635.8" y2="402.8" stroke="#222" stroke-width="1"/>
<rect x="622.6" y="405.3" width="20.399999999999977" height="56.19999999999999" fill="#000" />
<text x="632.8" y="458.2" font-size="12.3" text-anchor="middle" fill="#fff" stroke="#fff">4</text>
<line x1="668.15" y1="427.6" x2="668.15" y2="429.8" stroke="#222" stroke-width="1"/>
<line x1="665.15" y1="427.6" x2="671.15" y2="427.6" stroke="#222" stroke-width="1"/>
<rect x="657.8" y="429.8" width="20.700000000000045" height="31.69999999999999" fill="#000" />
<text x="668.15" y="458.2" font-size="12.3" text-anchor="middle" fill="#fff" stroke="#fff">6</text>
<text x="667.2" y="422.2" font-size="13" text-anchor="middle" fill="#000" stroke="#000">#</text>
<text x="549.5" y="479.4" font-size="12.3" text-anchor="end" fill="#000" stroke="#000">tTA:</text>
<text x="548.5" y="495.5" font-size="12.3" text-anchor="end" fill="#000" stroke="#000">IP<tspan font-size="8" dy="3">3</tspan><tspan dy="-3">R2:</tspan></text>
<text x="550.3" y="510.3" font-size="12.3" text-anchor="end" fill="#000" stroke="#000">Gαq:</text>
<text x="563.4" y="479.4" font-size="12.3" text-anchor="middle" fill="#000" stroke="#000">(+)</text>
<text x="600.8" y="479.4" font-size="12.3" text-anchor="middle" fill="#000" stroke="#000">(+)</text>
<text x="636" y="479.4" font-size="12.3" text-anchor="middle" fill="#000" stroke="#000">(+)</text>
<text x="670.3" y="478.2" font-size="12.3" text-anchor="middle" fill="#000" stroke="#000">(+)</text>
<text x="600.8" y="495.5" font-size="12.3" text-anchor="middle" fill="#000" stroke="#000">(+)</text>
<text x="670.3" y="494.3" font-size="12.3" text-anchor="middle" fill="#000" stroke="#000">(+)</text>
<text x="636" y="510.3" font-size="12.3" text-anchor="middle" fill="#000" stroke="#000">(+)</text>
<text x="670.3" y="510.3" font-size="12.3" text-anchor="middle" fill="#000" stroke="#000">(+)</text>
</svg>
</body></html>
